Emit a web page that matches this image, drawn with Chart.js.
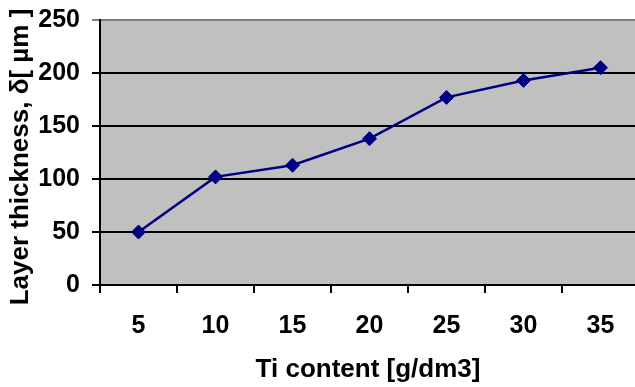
<!DOCTYPE html>
<html>
<head>
<meta charset="utf-8">
<script src="https://cdn.jsdelivr.net/npm/chart.js@4/dist/chart.umd.min.js"></script>
<style>
html,body{margin:0;padding:0;overflow:hidden;background:#fff;}
#wrap{width:647px;height:387px;position:relative;}
</style>
</head>
<body>
<div id="wrap"><canvas id="c"></canvas></div>
<script>
const categories = ['5', '10', '15', '20', '25', '30', '35'];
const thickness = [50, 102, 113, 138, 177, 193, 205];
const yTicks = [0, 50, 100, 150, 200, 250];
const xTitle = 'Ti content [g/dm3]';
const yTitle = 'Layer thickness, δ[ µm ]';

const FONT = "'Liberation Sans', Arial, sans-serif";

const bgPlugin = {
  id: 'plotBg',
  beforeDraw(chart) {
    const a = chart.chartArea, ctx = chart.ctx;
    ctx.save();
    ctx.fillStyle = '#C0C0C0';
    ctx.fillRect(a.left, a.top, a.right - a.left, a.bottom - a.top);
    ctx.restore();
  }
};

const titlePlugin = {
  id: 'axisTitles',
  afterDraw(chart) {
    const ctx = chart.ctx, a = chart.chartArea;
    ctx.save();
    ctx.fillStyle = '#000';
    ctx.font = "bold 26px " + FONT;
    ctx.textAlign = 'center';
    ctx.textBaseline = 'middle';
    ctx.fillText(xTitle, 368, 370);
    ctx.translate(21, 157);
    ctx.rotate(-Math.PI / 2);
    ctx.fillText(yTitle, 0, 0);
    ctx.restore();
  }
};

new Chart(document.getElementById('c'), {
  type: 'line',
  data: {
    labels: categories,
    datasets: [{
      data: thickness,
      borderColor: '#000080',
      backgroundColor: '#000080',
      borderWidth: 2.5,
      pointStyle: 'rectRot',
      pointRadius: 7,
      pointHoverRadius: 7,
      pointBorderWidth: 1,
      tension: 0,
      clip: false
    }]
  },
  options: {
    responsive: true,
    maintainAspectRatio: false,
    animation: false,
    layout: { padding: { top: 20, right: 1, left: 0, bottom: 0 } },
    plugins: { legend: { display: false }, tooltip: { enabled: false } },
    scales: {
      x: {
        type: 'category',
        offset: true,
        grid: { offset: true, drawOnChartArea: false, drawTicks: true, tickLength: 8, color: '#000', lineWidth: 2 },
        border: { display: true, color: '#000', width: 2 },
        ticks: { color: '#000', font: { family: FONT, size: 25, weight: 'bold' }, padding: 18, maxRotation: 0 },
        afterFit(s) { s.height = 102; s.paddingLeft = 0; s.paddingRight = 0; }
      },
      y: {
        min: 0, max: 250,
        afterBuildTicks(s) { s.ticks = yTicks.map(v => ({ value: v })); },
        grid: {
          drawTicks: true, tickLength: 8, lineWidth: 2,
          color: ctx => (ctx.tick && ctx.tick.value === 250) ? '#808080' : '#000'
        },
        border: { display: true, color: '#000', width: 2 },
        ticks: { color: '#000', font: { family: FONT, size: 25, weight: 'bold' }, padding: 12 },
        afterFit(s) { s.width = 100; s.paddingTop = 0; s.paddingBottom = 0; }
      }
    }
  },
  plugins: [bgPlugin, titlePlugin]
});
</script>
</body>
</html>
